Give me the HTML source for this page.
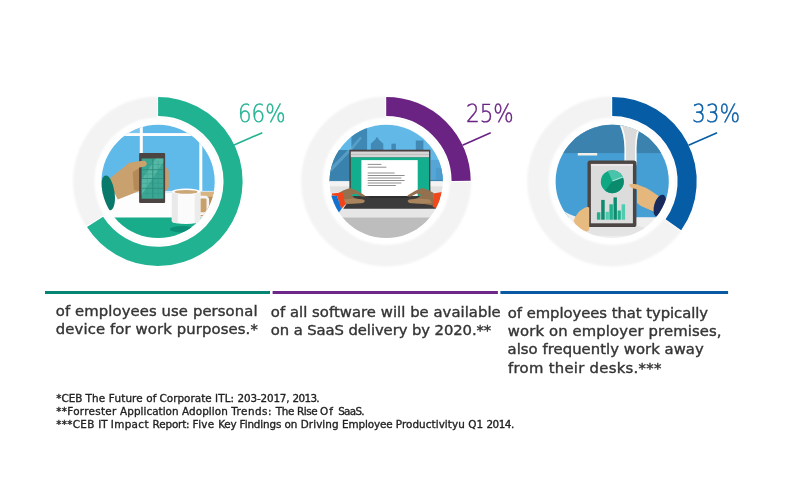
<!DOCTYPE html>
<html lang="en">
<head>
<meta charset="utf-8">
<title>Workplace statistics</title>
<style>
html,body{margin:0;padding:0;background:#fff;}
body{width:800px;height:480px;position:relative;overflow:hidden;}
.t{position:absolute;white-space:pre;line-height:1;transform-origin:0 0;margin:0;}
.b{font-family:"DejaVu Sans", "Liberation Sans", sans-serif;-webkit-text-stroke:0.4px currentColor;}
.f{-webkit-text-stroke:0.34px currentColor;}
.l{font-family:"DejaVu Sans Light", "DejaVu Sans", "Liberation Sans", sans-serif;font-weight:200;text-rendering:geometricPrecision;-webkit-text-stroke:0.42px currentColor;}
</style>
</head>
<body>
<svg width="800" height="480" viewBox="0 0 800 480" style="position:absolute;left:0;top:0">
<defs>
<filter id="soft" x="-10%" y="-10%" width="120%" height="120%"><feGaussianBlur stdDeviation="0.9"/></filter>
<clipPath id="c1"><circle cx="158.1" cy="181.4" r="56.6"/></clipPath>
<clipPath id="c2"><circle cx="386.2" cy="181.4" r="56.6"/></clipPath>
<clipPath id="c3"><circle cx="612.2" cy="181.4" r="56.6"/></clipPath>
</defs>
<circle cx="158.1" cy="181.4" r="74.3" fill="none" stroke="#f3f3f3" stroke-width="21.4" filter="url(#soft)"/>
<path d="M157.05,106.46 A74.95,74.95 0 1 1 94.47,221.01" fill="none" stroke="#fff" stroke-width="22.1"/>
<path d="M158.10,106.45 A74.95,74.95 0 1 1 95.03,221.89" fill="none" stroke="#21b292" stroke-width="19.1"/>
<circle cx="386.2" cy="181.4" r="74.3" fill="none" stroke="#f3f3f3" stroke-width="21.4" filter="url(#soft)"/>
<path d="M385.15,106.46 A74.95,74.95 0 0 1 461.15,181.92" fill="none" stroke="#fff" stroke-width="22.1"/>
<path d="M386.20,106.45 A74.95,74.95 0 0 1 461.15,180.88" fill="none" stroke="#6a2283" stroke-width="19.1"/>
<circle cx="612.2" cy="181.4" r="74.3" fill="none" stroke="#f3f3f3" stroke-width="21.4" filter="url(#soft)"/>
<path d="M611.15,106.46 A74.95,74.95 0 0 1 672.76,225.56" fill="none" stroke="#fff" stroke-width="22.1"/>
<path d="M612.20,106.45 A74.95,74.95 0 0 1 673.37,224.71" fill="none" stroke="#065ca5" stroke-width="19.1"/>
<line x1="233.5" y1="145.2" x2="262.3" y2="132.7" stroke="#21b292" stroke-width="1.6"/>
<line x1="462.5" y1="145.2" x2="490.7" y2="132.7" stroke="#6a2283" stroke-width="1.6"/>
<line x1="688.5" y1="145.2" x2="717.1" y2="132.7" stroke="#065ca5" stroke-width="1.6"/>
<rect x="45" y="291" width="225" height="3" fill="#078573"/>
<rect x="272.6" y="291" width="225.3" height="3" fill="#6e2789"/>
<rect x="500.4" y="291" width="227.7" height="3" fill="#0a5aa3"/>
<g clip-path="url(#c1)"><g transform="translate(-0.2,-0.1)">
<rect x="100" y="124" width="118" height="70" fill="#5fb9e9"/>
<path d="M128,133.2 L140,126 L140,133.2 Z" fill="#8fd0f1" opacity="0.6"/>
<rect x="100" y="133.2" width="118" height="2.9" fill="#fff"/>
<rect x="140" y="124" width="3" height="70" fill="#fff"/>
<rect x="199.5" y="136" width="3" height="58" fill="#fff"/>
<rect x="100" y="191.5" width="118" height="50" fill="#fdfdfd"/>
<rect x="100" y="191" width="118" height="2.2" fill="#d9eefa"/>
<rect x="100" y="217.6" width="118" height="24" fill="#19ac8b"/>
<ellipse cx="182.5" cy="229.3" rx="12.5" ry="3.2" fill="#0c8f77"/>
<!-- box -->
<rect x="199" y="192" width="16" height="24.5" fill="#c9a06a"/>
<rect x="199" y="192" width="16" height="5" fill="#d8b482"/>
<rect x="207.5" y="197" width="8" height="19.5" fill="#b98f59"/>
<!-- mug -->
<path d="M200,197.2 h5.5 a2.5,2.5 0 0 1 2.5,2.5 v10 a4,4 0 0 1 -4,4 h-4" fill="none" stroke="#f4f4f4" stroke-width="2.6"/>
<path d="M172,191.5 L172,221 A14.3,3 0 0 0 200.6,221 L200.6,191.5 Z" fill="#fbfbfb"/>
<path d="M172,191.5 L172,221 A14.3,3 0 0 0 178,223.6 L178,193 Z" fill="#e9e9e9"/>
<path d="M195,193 L195,223.4 A14.3,3 0 0 0 200.6,221 L200.6,191.5 Z" fill="#ececec"/>
<ellipse cx="186.3" cy="191.6" rx="14.3" ry="2.9" fill="#fff"/>
<ellipse cx="186.3" cy="192" rx="11.6" ry="1.9" fill="#c9a777"/>
<!-- hand -->
<path d="M165,167 q4,0.5 4,5 v14 q0,4 -4,5 Z" fill="#c69c68"/>
<path d="M108,180 L128,164 Q136,161.5 145,161.3 Q147.5,162 147.3,164.5 Q147,166.3 144,166.6 L139.5,168 L139.5,191 L118,199.5 Z" fill="#c9a16e"/>
<path d="M133,172 L139.5,168 L139.5,191 L134,190 Z" fill="#b48a59"/>
<ellipse cx="108.2" cy="193" rx="6.6" ry="17.5" fill="#08796b" transform="rotate(-8 108.2 193)"/>
<!-- phone -->
<rect x="139.3" y="153" width="26" height="50" rx="1" fill="#4c4443"/>
<rect x="141.8" y="158.6" width="21.8" height="40.2" fill="#3ba694"/>
<path d="M141.8,180 L156,158.6 L163.6,158.6 L163.6,162 L141.8,195 Z" fill="#6cc4b3" opacity="0.55"/>
<path d="M153,158.6 v40.2 M141.8,169.8 h21.8 M141.8,178.6 h21.8 M141.8,188.4 h21.8" stroke="#2c8c7c" stroke-width="0.9" fill="none"/>
<path d="M147.4,161 v36 M158.4,161 v36 M141.8,164.6 h21.8 M141.8,174.2 h21.8 M141.8,183.4 h21.8 M141.8,193.4 h21.8" stroke="#2f9585" stroke-width="0.5" fill="none" opacity="0.7"/>
<path d="M126,166 L129,163.2 Q137,161.2 144.5,160.9 Q147.2,161.5 147,164.3 Q146.6,166.6 143.5,166.9 L136,168.3 Z" fill="#cba26d"/>
</g></g>

<g clip-path="url(#c2)"><g transform="translate(-0.2,-0.1)">
<rect x="328" y="124" width="118" height="58" fill="#62b9e8"/>
<!-- skyline -->
<path d="M328,181 L328,150 L351.6,150 L351.6,133 L367.3,124 L367.3,181 Z" fill="#3d88b4"/>
<path d="M328,181 L328,150 L351.6,150 L351.6,181 Z" fill="#3a82ae"/>
<path d="M330,168.4 L351.8,146.4 L360.4,136.6 L362.2,138.2 L353.4,148.8 L331.6,171.6 Z" fill="#74b6db" opacity="0.5"/>
<path d="M371,151 L371,143.8 L376,139.2 L376,137.6 L378.4,137.6 L378.4,139.2 L383.5,143.8 L383.5,151 Z" fill="#4389b5"/>
<rect x="391.6" y="143.8" width="4.5" height="8" fill="#4389b5"/>
<rect x="416" y="140.6" width="7.6" height="10" fill="#4389b5"/>
<rect x="431" y="160" width="15" height="22" fill="#55a6d6"/>
<rect x="436" y="168" width="10" height="14" fill="#4b9ccc"/>
<!-- sill -->
<rect x="328" y="180.5" width="118" height="12" fill="#f3f3f3"/>
<rect x="328" y="180" width="118" height="1.2" fill="#3f87b2"/>
<rect x="328" y="186.5" width="118" height="6" fill="#e2e2e2"/>
<!-- desk -->
<rect x="328" y="192" width="118" height="26" fill="#e6e6e6"/>
<rect x="328" y="217.6" width="118" height="24" fill="#bdbdbd"/>
<!-- laptop screen -->
<rect x="349.6" y="149.8" width="81" height="47" fill="#4a403e"/>
<rect x="351" y="151.6" width="78.2" height="6" fill="#d6d6d6"/>
<rect x="351" y="154.2" width="78.2" height="0.9" fill="#bdbdbd"/>
<rect x="351" y="157.5" width="78.2" height="39" fill="#13ae8d"/>
<rect x="361.6" y="160.2" width="56.3" height="36" fill="#fff"/>
<g stroke="#8e8e8e" stroke-width="1">
<path d="M367.9,164.5 H381.6 M367.9,167.3 H386.6 M367.9,173.1 H394.8 M367.9,175.6 H404.8 M367.9,178.1 H401.6 M367.9,180.6 H404.8 M367.9,183.1 H401.6 M367.9,185.6 H396"/>
</g>
<!-- base -->
<path d="M352,196.2 L428.5,196.2 L437,208.8 L343.5,208.8 Z" fill="#3b3b3b"/>
<rect x="369" y="196.2" width="40" height="2" fill="#2f2f2f"/>
<!-- hands -->
<path d="M338.8,193.0 L343.8,190.3 L350.3,188.2 L356.8,190.5 L364.8,195.3 L365.3,196.6 L361.8,196.5 L355.8,193.5 L351.3,195.0 L355.3,198.5 L363.8,199.8 L365.0,201.2 L363.3,203.0 L349.8,203.8 L339.8,205.6 Z" fill="#94714e"/>
<path d="M363.8,199.8 L354.8,198.6 L342.8,199.5 L340.8,203.0 L349.8,203.8 L363.3,203.0 L365.0,201.2 Z" fill="#a9845c"/>
<path d="M434.0,193.0 L429.0,190.3 L422.5,188.2 L416.0,190.5 L408.0,195.3 L407.5,196.6 L411.0,196.5 L417.0,193.5 L421.5,195.0 L417.5,198.5 L409.0,199.8 L407.8,201.2 L409.5,203.0 L423.0,203.8 L433.0,205.6 Z" fill="#94714e"/>
<path d="M409.0,199.8 L418.0,198.6 L430.0,199.5 L432.0,203.0 L423.0,203.8 L409.5,203.0 L407.8,201.2 Z" fill="#a9845c"/>
<!-- sleeves -->
<path d="M332.2,193.6 L342.8,192.6 L345.6,204.6 L341.4,209 L337.2,196.2 L332.2,195.6 Z" fill="#f2441c"/>
<path d="M328,195.4 L337.2,196.1 L341.6,209.2 L338,214 L328,205 Z" fill="#1272d0"/>
<path d="M433.5,193.5 L442,192 L438,208.5 L433,207 Z" fill="#f0481b"/>
</g></g>

<g clip-path="url(#c3)"><g transform="translate(-0.4,-0.1)">
<rect x="554" y="124" width="118" height="94" fill="#459fd4"/>
<rect x="554" y="124" width="118" height="29.2" fill="#3b83ae"/>
<rect x="578.2" y="153.1" width="19.4" height="2.5" fill="#f1efe9"/>
<!-- pillar -->
<path d="M619.6,124 Q624.6,134 624.8,148 L624.8,165 L637,165 L637,148 Q637.2,134 642,124 Z" fill="#fbfbfb"/>
<path d="M621.6,124 Q626.2,134 626.4,148 L626.4,165 L635.4,165 L635.4,148 Q635.6,134 639.8,124 Z" fill="#dadada"/>
<!-- table -->
<path d="M554,204 Q566,214 578,217.3 L660,217.3 L672,210 L672,242 L554,242 Z" fill="#eeeeee"/>
<ellipse cx="612" cy="230" rx="36" ry="6" fill="#e4e4e4"/>
<!-- right hand -->
<path d="M640,203 L655,214 L660,216.5 L662,211 Z" fill="#3c8cc3"/>
<path d="M629.8,184.3 Q632.4,183.2 638.9,185 Q646.4,187.2 652.4,191.5 L660.4,197 L657,213.2 L641.4,206 L637.4,203 L637.4,189.6 L631.9,188 Q629.4,186.6 629.8,184.3 Z" fill="#e5b77c"/>
<ellipse cx="660.2" cy="205.8" rx="5.6" ry="11.4" fill="#182a5c" transform="rotate(17 660.2 205.8)"/>
<!-- tablet -->
<rect x="587.9" y="160.7" width="48.9" height="66.4" rx="2.6" fill="#4b4544"/>
<rect x="591.3" y="164" width="42" height="59.4" fill="#dcdcdc"/>
<circle cx="612.7" cy="181.8" r="11.5" fill="#10a883"/>
<path d="M612.8,181.1 L623.21,177.12 A11.5,11.5 0 0 1 605.62,190.86 Z" fill="#0b8b6e"/>
<path d="M612.8,181.1 L608.21,171.21 A11.5,11.5 0 0 1 623.21,177.12 Z" fill="#4ac3ab"/>
<path d="M612.8,181.1 L623.21,177.12" stroke="#a5e8d8" stroke-width="1.1"/>
<rect x="591.3" y="164.6" width="42" height="1.3" fill="#f1e9ee"/>
<rect x="597.3" y="212.4" width="3.5" height="7.4" fill="#22b08c"/>
<rect x="601.6" y="200" width="3.5" height="19.8" fill="#0e8a6f"/>
<rect x="606" y="211.9" width="3.3" height="7.9" fill="#4fcbb0"/>
<rect x="609.8" y="204.4" width="3.5" height="15.4" fill="#22b08c"/>
<rect x="613.9" y="197.5" width="3.4" height="22.3" fill="#0e8a6f"/>
<rect x="618" y="210.6" width="3.2" height="9.2" fill="#22b08c"/>
<rect x="622" y="204.4" width="3.5" height="15.4" fill="#4fcbb0"/>
<!-- left hand -->
<path d="M574,221 Q577,212 584,208.5 Q588,206.5 589.6,207.6 L589.6,230 Q587,232.5 583.5,231 Q577,227 574,221 Z" fill="#e7ba7f"/>
<!-- right thumb over tablet -->
<path d="M629.8,184.3 Q632.4,183.2 638.9,185 L640,189.8 L631.9,188 Q629.4,186.6 629.8,184.3 Z" fill="#e5b77c"/>
</g></g>

</svg>
<div class="t b" id="a1" style="left:55.75px;top:304px;font-size:14.8px;color:#353535;letter-spacing:0.108px;">of employees use personal</div>
<div class="t b" id="a2" style="left:55.75px;top:322px;font-size:14.8px;color:#353535;letter-spacing:0.13px;">device for work purposes.*</div>
<div class="t b" id="b1" style="left:270.8px;top:305px;font-size:14.8px;color:#353535;letter-spacing:0.048px;">of all software will be available</div>
<div class="t b" id="b2" style="left:270.8px;top:323px;font-size:14.8px;color:#353535;letter-spacing:-0.079px;">on a SaaS delivery by 2020.**</div>
<div class="t b" id="c1" style="left:507.8px;top:306px;font-size:14.8px;color:#353535;letter-spacing:-0.042px;">of employees that typically</div>
<div class="t b" id="c2" style="left:507.8px;top:324px;font-size:14.8px;color:#353535;letter-spacing:0.136px;">work on employer premises,</div>
<div class="t b" id="c3" style="left:507.55px;top:342px;font-size:14.8px;color:#353535;letter-spacing:0.054px;">also frequently work away</div>
<div class="t b" id="c4" style="left:508.05px;top:361px;font-size:14.8px;color:#353535;letter-spacing:0.292px;">from their desks.***</div>
<div class="t b f" id="f1" style="left:56.35px;top:393px;font-size:10.4px;color:#222222;"><span style="letter-spacing:-0.061px">*CEB </span><span style="letter-spacing:0.177px">The </span><span style="letter-spacing:0.156px">Future </span><span style="letter-spacing:-0.059px">of </span><span style="letter-spacing:0.035px">Corporate </span><span style="letter-spacing:0.097px">ITL: </span><span style="letter-spacing:-0.164px">203-2017, </span><span style="letter-spacing:-0.67px">2013.</span></div>
<div class="t b f" id="f2" style="left:56.35px;top:406px;font-size:10.4px;color:#222222;"><span style="letter-spacing:0.284px">**Forrester </span><span style="letter-spacing:0.044px">Application </span><span style="letter-spacing:0.094px">Adoplion </span><span style="letter-spacing:0.462px">Trends: </span><span style="letter-spacing:-0.335px">The </span><span style="letter-spacing:-0.424px">Rise </span><span style="letter-spacing:0.986px">Of </span><span style="letter-spacing:-0.707px">SaaS.</span></div>
<div class="t b f" id="f3" style="left:56.35px;top:419px;font-size:10.4px;color:#222222;"><span style="letter-spacing:0.287px">***CEB </span><span style="letter-spacing:-0.073px">IT </span><span style="letter-spacing:0.379px">Impact </span><span style="letter-spacing:-0.156px">Report: </span><span style="letter-spacing:0.329px">Five </span><span style="letter-spacing:-0.21px">Key </span><span style="letter-spacing:-0.12px">Findings </span><span style="letter-spacing:-0.017px">on </span><span style="letter-spacing:0.077px">Driving </span><span style="letter-spacing:-0.118px">Employee </span><span style="letter-spacing:0.071px">Productivityu </span><span style="letter-spacing:0.019px">Q1 </span><span style="letter-spacing:-0.48px">2014.</span></div>
<div class="t l" id="p1" style="left:237.75px;top:102px;font-size:24.8px;color:#21b292;transform:scale(0.8634,1.0);">66%</div>
<div class="t l" id="p2" style="left:465.65px;top:102px;font-size:24.8px;color:#6a2283;transform:scale(0.8654,1.0);">25%</div>
<div class="t l" id="p3" style="left:692.25px;top:102px;font-size:24.8px;color:#065ca5;transform:scale(0.8744,1.0);">33%</div>
</body>
</html>
